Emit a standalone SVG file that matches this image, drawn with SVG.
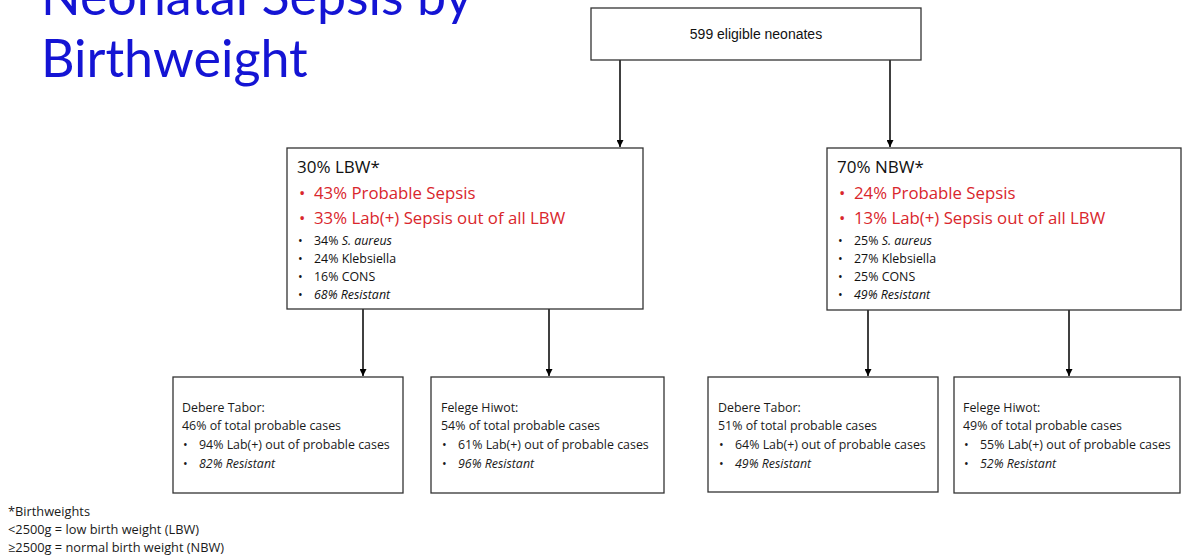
<svg xmlns="http://www.w3.org/2000/svg" width="1182" height="559" viewBox="0 0 1182 559">
<defs>
<style>
.box{fill:#fff;stroke:#333;stroke-width:1.3}
.c{font-family:"Open Sans",Lato,sans-serif}
.title{font-family:Lato,"Open Sans",sans-serif;font-size:52px;fill:#1414d4}
.hd{font-size:17px;fill:#111}
.red{font-size:16.8px;fill:#d9262c}
.sm{font-size:12.4px;fill:#111}
.bt{font-size:12.4px;fill:#1a1a1a}
.fn{font-size:12.8px;fill:#1a1a1a}
.it{font-style:italic}
.top{font-family:"Liberation Sans",Arial,sans-serif;font-size:14px;fill:#111}
.conn{stroke:#000;stroke-width:1.5;fill:none}
</style>
<marker id="ah" viewBox="0 0 10 10" refX="10" refY="5" markerWidth="7" markerHeight="7" markerUnits="userSpaceOnUse" orient="auto">
<path d="M0,0 L10,5 L0,10 z" fill="#000"/>
</marker>
</defs>
<rect width="1182" height="559" fill="#fff"/>
<g id="title">
<text class="title" x="41" y="15">Neonatal Sepsis by</text>
<text class="title" x="41" y="77">Birthweight</text>
</g>
<g id="connectors">
<line class="conn" x1="620" y1="60" x2="620" y2="147" marker-end="url(#ah)"/>
<line class="conn" x1="890" y1="60" x2="890" y2="147" marker-end="url(#ah)"/>
<line class="conn" x1="363" y1="309" x2="363" y2="376" marker-end="url(#ah)"/>
<line class="conn" x1="549" y1="309" x2="549" y2="376" marker-end="url(#ah)"/>
<line class="conn" x1="868" y1="310" x2="868" y2="376" marker-end="url(#ah)"/>
<line class="conn" x1="1069" y1="310" x2="1069" y2="376" marker-end="url(#ah)"/>
</g>
<g id="root">
<rect class="box" x="591" y="8" width="330" height="52"/>
<text class="top" x="756" y="39" text-anchor="middle">599 eligible neonates</text>
</g>
<g id="lbw" class="c">
<rect class="box" x="287" y="148" width="356" height="161"/>
<text class="hd" x="297" y="173">30% LBW*</text>
<text class="red" x="299" y="199">•</text><text class="red" x="314" y="199">43% Probable Sepsis</text>
<text class="red" x="299" y="224">•</text><text class="red" x="314" y="224">33% Lab(+) Sepsis out of all LBW</text>
<text class="sm" x="298" y="245">•</text><text class="sm" x="314" y="245">34% <tspan class="it">S. aureus</tspan></text>
<text class="sm" x="298" y="263">•</text><text class="sm" x="314" y="263">24% Klebsiella</text>
<text class="sm" x="298" y="281">•</text><text class="sm" x="314" y="281">16% CONS</text>
<text class="sm" x="298" y="299">•</text><text class="sm it" x="314" y="299">68% Resistant</text>
</g>
<g id="nbw" class="c">
<rect class="box" x="827" y="148" width="354" height="162"/>
<text class="hd" x="837" y="173">70% NBW*</text>
<text class="red" x="839" y="199">•</text><text class="red" x="854" y="199">24% Probable Sepsis</text>
<text class="red" x="839" y="224">•</text><text class="red" x="854" y="224">13% Lab(+) Sepsis out of all LBW</text>
<text class="sm" x="838" y="245">•</text><text class="sm" x="854" y="245">25% <tspan class="it">S. aureus</tspan></text>
<text class="sm" x="838" y="263">•</text><text class="sm" x="854" y="263">27% Klebsiella</text>
<text class="sm" x="838" y="281">•</text><text class="sm" x="854" y="281">25% CONS</text>
<text class="sm" x="838" y="299">•</text><text class="sm it" x="854" y="299">49% Resistant</text>
</g>
<g id="lbw-debere" class="c">
<rect class="box" x="173" y="377" width="230" height="116"/>
<text class="bt" x="182" y="412">Debere Tabor:</text>
<text class="bt" x="182" y="430">46% of total probable cases</text>
<text class="bt" x="183" y="449">•</text><text class="bt" x="199" y="449">94% Lab(+) out of probable cases</text>
<text class="bt" x="183" y="468">•</text><text class="bt it" x="199" y="468">82% Resistant</text>
</g>
<g id="lbw-felege" class="c">
<rect class="box" x="431" y="377" width="233" height="116"/>
<text class="bt" x="441" y="412">Felege Hiwot:</text>
<text class="bt" x="441" y="430">54% of total probable cases</text>
<text class="bt" x="442" y="449">•</text><text class="bt" x="458" y="449">61% Lab(+) out of probable cases</text>
<text class="bt" x="442" y="468">•</text><text class="bt it" x="458" y="468">96% Resistant</text>
</g>
<g id="nbw-debere" class="c">
<rect class="box" x="708" y="377" width="230" height="115"/>
<text class="bt" x="718" y="412">Debere Tabor:</text>
<text class="bt" x="718" y="430">51% of total probable cases</text>
<text class="bt" x="719" y="449">•</text><text class="bt" x="735" y="449">64% Lab(+) out of probable cases</text>
<text class="bt" x="719" y="468">•</text><text class="bt it" x="735" y="468">49% Resistant</text>
</g>
<g id="nbw-felege" class="c">
<rect class="box" x="954" y="377" width="226" height="116"/>
<text class="bt" x="963" y="412">Felege Hiwot:</text>
<text class="bt" x="963" y="430">49% of total probable cases</text>
<text class="bt" x="964" y="449">•</text><text class="bt" x="980" y="449">55% Lab(+) out of probable cases</text>
<text class="bt" x="964" y="468">•</text><text class="bt it" x="980" y="468">52% Resistant</text>
</g>
<g id="footnote" class="c">
<text class="fn" x="8" y="516">*Birthweights</text>
<text class="fn" x="8" y="534">&lt;2500g = low birth weight (LBW)</text>
<text class="fn" x="8" y="552">≥2500g = normal birth weight (NBW)</text>
</g>
</svg>
